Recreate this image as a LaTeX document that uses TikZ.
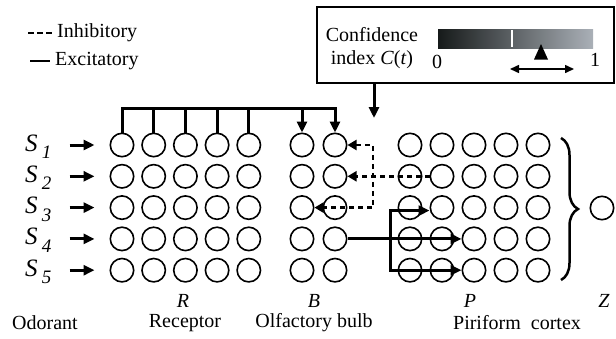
\documentclass[tikz,border=0pt]{standalone}
\usepackage{fontspec}
\setmainfont{Liberation Serif}
\usetikzlibrary{arrows.meta,decorations.pathreplacing,positioning}

\definecolor{barleft}{RGB}{22,26,26}
\definecolor{barmid}{RGB}{118,124,130}
\definecolor{barright}{RGB}{170,176,183}

\tikzset{
  neuron/.style={circle,draw,line width=1.6pt,minimum size=23.4pt,inner sep=0pt},
  wire/.style={line width=3pt},
  excit/.style={wire,-{Triangle[length=11pt,width=10pt]}},
  inhib/.style={line width=2.6pt,dash pattern=on 5pt off 4pt},
  lab/.style={inner sep=0pt,font=\fontsize{20}{23}\selectfont},
  ilab/.style={lab,font=\fontsize{20}{23}\selectfont\itshape},
}
\newcommand{\slab}[1]{{\fontsize{25}{25}\selectfont\itshape S\,\raisebox{-0.3em}{\fontsize{19}{19}\selectfont #1}}}

\begin{document}
\begin{tikzpicture}[x=1pt,y=-1pt]
			\useasboundingbox (0,0) rectangle (616,338);
			
			% legend
			\node[lab,anchor=west] (inhlab) at (57,33) {Inhibitory};
			\node[lab,anchor=west] (exclab) at (55,61) {Excitatory};
			\draw[line width=2pt,dash pattern=on 6pt off 3pt] ([xshift=-29pt]inhlab.west) -- ([xshift=-5pt]inhlab.west);
			\draw[line width=2.5pt] ([xshift=-25pt]exclab.west) -- ([xshift=-5pt]exclab.west);
			
			% confidence index
			\node[draw,line width=2pt,minimum width=297pt,minimum height=76pt,inner sep=0pt] (cbox) at (465.5,45) {};
			\node[lab,align=center] (cidx) at (372,48.5) {Confidence\\index \textit{C}(\textit{t})};
			\shade[left color=barleft,middle color=barmid,right color=barright] (438,29) rectangle (593,48);
			\draw[white,line width=1.3pt] (512,30) -- (512,47);
			\fill (541,44) -- (534,59.5) -- (548,59.5) -- cycle;
			\node[lab] (zero) at (437,62) {0};
			\node[lab] (one) at (595,60) {1};
			\coordinate (wl) at (510,69);
			\coordinate (wr) at (574,69);
			\draw[line width=1.5pt,{Triangle[length=9pt,width=8pt]}-{Triangle[length=9pt,width=8pt]}] (wl) -- (wr);
			
			% neurons
			\foreach \i [evaluate=\i as \yy using 145+31.3*(\i-1)] in {1,...,5} {
				\node[anchor=base west,inner sep=0pt] (s\i) at (25,\yy+6) {\slab{\i}};
				\foreach \j in {1,...,5} {
					\node[neuron] (r\i\j) at ({122+31.7*(\j-1)},\yy) {};
					\node[neuron] (p\i\j) at ({410+32*(\j-1)},\yy) {};
				}
				\node[neuron] (b\i1) at (302,\yy) {};
				\node[neuron] (b\i2) at (335,\yy) {};
				\draw[excit] ([xshift=18pt]s\i.east |- r\i1.west) -- ([xshift=-15pt]r\i1.west);
			}
			\node[neuron] (z) at (602,208) {};
			
			% feedback bus
			\coordinate (bus) at (0,108);
			\draw[excit] (r11.north) |- (bus -| b12.north) -- (b12.north);
			\foreach \j in {2,...,5}
				\draw[wire] (r1\j.north) -- (r1\j.north |- bus);
			\draw[excit] (b11.north |- bus) -- (b11.north);
			\coordinate (cin) at (374,118);
			\draw[excit] (cin |- cbox.south) -- (cin);
			
			% inhibitory
			\coordinate (ibus) at (373,176.3);
			\draw[inhib,-{Triangle[length=9pt,width=10pt]}] (p22.west) -- (b22.east);
			\draw[inhib,{Triangle[length=9pt,width=10pt]}-{Triangle[length=9pt,width=10pt]}] (b12.east) -| (ibus) |- (b31.east);
			
			% excitatory to cortex
			\coordinate (ebus) at (390,238.9);
			\draw[excit] (b42.east) -- (p43.west);
			\draw[excit] (ebus) |- ([yshift=-3pt]p32.west);
			\draw[excit] (ebus) |- (p53.west);
			
			\draw[line width=2.5pt,decorate,decoration={brace,amplitude=17pt}] (561,138) -- (561,280);
			
			% labels
			\node[ilab] (rl) at (183,301) {R};
			\node[ilab] (bl) at (314,301) {B};
			\node[ilab] (pl) at (470,301) {P};
			\node[ilab] (zl) at (604,301) {Z};
			\node[lab] (odor) at (45,323) {Odorant};
			\node[lab] (recep) at (185,323) {Receptor};
			\node[lab] (bulb) at (314,323) {Olfactory bulb};
			\node[lab] (cortex) at (517,323) {Piriform\ \ cortex};
\end{tikzpicture}
\end{document}
